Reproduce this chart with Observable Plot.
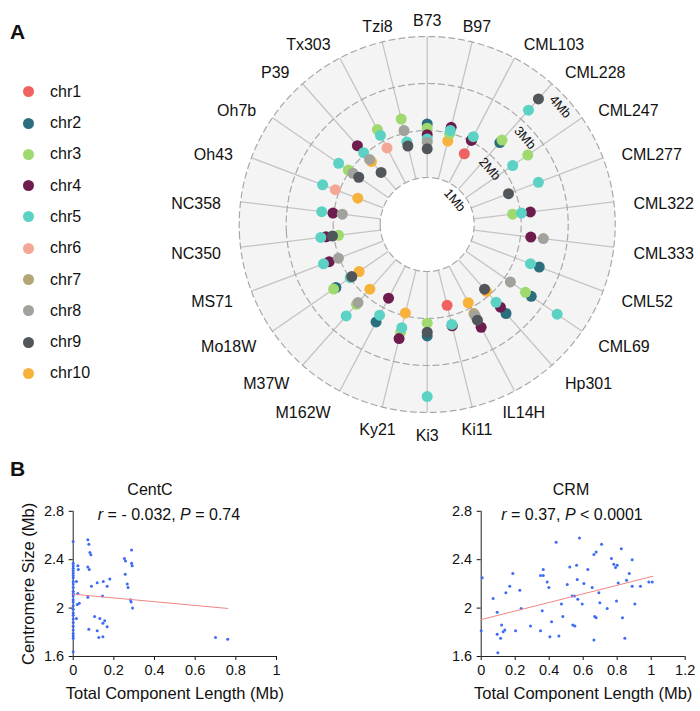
<!DOCTYPE html>
<html><head><meta charset="utf-8">
<script src="https://cdn.jsdelivr.net/npm/d3@7"></script>
<script src="https://cdn.jsdelivr.net/npm/@observablehq/plot@0.6"></script>
<style>
body{margin:0;background:#fff;font-family:"Liberation Sans",Arial,sans-serif;color:#111;}
#root{position:relative;width:700px;height:711px;overflow:hidden;background:#fff;}
.panel{position:absolute;font-weight:bold;font-size:21px;}
.leg{position:absolute;font-size:16px;display:flex;align-items:center;}
.leg span.sw{display:inline-block;width:11px;height:11px;border-radius:50%;margin-right:16px;}
.ctr{position:absolute;transform:translate(-50%,-50%);white-space:nowrap;font-size:16px;}
</style></head><body><div id="root"></div>
<script>
// ---------------- data ----------------
const genotypes = ["B73","B97","CML103","CML228","CML247","CML277","CML322","CML333","CML52","CML69","Hp301","IL14H","Ki11","Ki3","Ky21","M162W","M37W","Mo18W","MS71","NC350","NC358","Oh43","Oh7b","P39","Tx303","Tzi8"];
const chromosomes = ["chr1","chr2","chr3","chr4","chr5","chr6","chr7","chr8","chr9","chr10"];
const chrColors = ["#F0625F","#2B6F7F","#9FD96F","#6E1C4E","#5CD2C4","#F4A796","#B4A676","#A2A29C","#505659","#F7B23B"];
const _ = null;
//             B73  B97  C103 C228 C247 C277 C322 C333 C52  C69  Hp301 IL14H Ki11 Ki3  Ky21 M162W M37W Mo18W MS71 NC350 NC358 Oh43 Oh7b P39  Tx303 Tzi8
const chr1  = [_,   _,   1.70,_,   _,   _,   _,   _,   _,   _,   _,    _,    1.77,_,   _,   _,    _,   _,    _,   _,    _,    _,   _,   _,   _,    _];
const chr2  = [2.14,_,   2.04,2.33,_,   _,   _,   _,   2.55,2.69,2.53, _,    _,   2.37,_,   2.34, _,   2.36, _,   _,    _,    _,   _,   _,   _,    _];
const chr3  = [2.05,1.99,_,   2.40,2.60,_,   1.83,_,   _,   2.54,_,    _,    2.21,2.10,2.36,_,    2.27,2.42, _,   1.90, _,    _,   2.04,_,   2.28, 2.31];
const chr4  = [1.91,2.13,2.02,_,   _,   _,   2.21,2.22,_,   _,   2.35, 2.47, 2.22,_,   2.50,1.77, _,   _,    2.23,2.17, 2.02, _,   _,   2.24,_,    _];
const chr5  = [1.82,2.06,2.11,3.25,2.21,2.53,2.02,_,   2.35,3.36,2.21, _,    2.19,3.66,2.26,2.18, 2.60,1.99, 2.36,2.28, 2.26, 2.38,2.29,2.04,2.14, 1.81];
const chr6  = [_,   _,   _,   _,   _,   _,   _,   _,   _,   _,   _,    _,    _,   _,   _,   _,    _,   _,    _,   _,    _,    2.09,_,   _,   1.84, _];
const chr7  = [_,   _,   _,   _,   _,   _,   _,   _,   _,   _,   _,    2.14, _,   _,   _,   _,    _,   _,    _,   _,    _,    _,   _,   _,   _,    _];
const chr8  = [1.75,_,   _,   _,   _,   _,   _,   2.49,_,   2.15,_,    2.20, _,   _,   _,   _,    2.22,_,    2.02,_,    1.82, _,   1.92,1.85,_,    2.06];
const chr9  = [1.61,_,   _,   3.57,_,   1.85,_,   _,   _,   _,   1.84, 2.30, _,   2.29,_,   _,    _,   1.95, _,   2.03, _,    _,   1.77,1.48,_,    1.72];
const chr10 = [_,   1.83,_,   _,   _,   _,   _,   _,   _,   _,   1.90, 1.88, _,   _,   1.94,_,    1.84,1.76, _,   _,    _,    1.58,_,   1.79,_,    _];
const radialTicks = [1, 2, 3, 4];

// Panel B
const centcX = [0,0,0,0,0,0,0,0,0,0,0,0,0,0,0,0,0,0,0,0,0,0,0,0,0,0,0,0,
  0.072,0.077,0.082,0.087,0.072,0.079,0.023,0.025,0.016,0.023,0.072,0.09,0.118,0.148,0.167,0.18,0.144,0.02,0.03,
  0.252,0.257,0.287,0.287,0.29,0.256,0.266,0.27,0.282,0.285,0.292,0.016,0.105,0.131,0.146,0.155,0.167,0.077,0.118,0.126,0.146,0.70,0.76];
const centcY = [2.55,2.37,2.35,2.33,2.31,2.29,2.27,2.25,2.22,2.20,2.17,2.14,2.12,2.10,2.07,2.05,2.02,1.99,1.96,1.94,1.91,1.88,1.85,1.82,1.79,1.77,1.75,1.64,
  2.565,2.527,2.46,2.44,2.34,2.32,2.35,2.32,2.22,2.12,2.09,2.18,2.21,2.22,2.18,2.24,2.10,2.03,2.04,
  2.41,2.39,2.48,2.37,2.35,2.28,2.20,2.17,2.07,2.05,2.0,1.915,1.93,1.915,1.875,1.895,1.846,1.825,1.813,1.756,1.764,1.756,1.742];
const crmX = [0.006,0.07,0.094,0.12,0.145,0.168,0.186,0.227,0.235,0.349,0.365,0.365,0.359,0.388,0.398,0.441,0.472,0.48,0.506,0.521,0.535,0.549,0.539,0.561,0.565,0.568,0.578,0.594,0.604,0.627,0.653,0.663,0.676,0.692,0.698,0.668,0.676,0.708,0.741,0.766,0.78,0.79,0.8,0.796,0.806,0.824,0.831,0.855,0.871,0.888,0.888,0.904,0.937,0.986,1.006,
  0,0.094,0.098,0.114,0.129,0.139,0.202,0.29,0.349,0.404,0.414,0.457,0.551,0.663,0.845];
const crmY = [2.25,2.08,1.965,1.86,2.126,2.18,2.285,2.148,1.997,2.27,2.27,2.32,1.978,2.216,2.17,2.545,2.033,1.93,2.195,2.34,2.099,2.099,1.86,2.354,2.236,2.074,2.58,2.033,2.203,2.318,2.17,2.444,2.463,2.126,2.044,1.93,1.92,2.527,1.997,2.41,2.362,2.335,2.354,2.058,2.208,2.49,1.92,2.23,2.285,2.40,2.18,2.033,2.18,2.216,2.216,
  1.813,1.784,1.632,1.75,1.805,1.819,1.813,1.852,1.813,1.764,1.887,1.77,1.852,1.737,1.75];
const centcFitX = [0, 0.76], centcFitY = [2.115, 1.997];
const crmFitX = [0, 1.01], crmFitY = [1.905, 2.263];
const scatterYTicks = [1.6, 2, 2.4, 2.8];
const centcXTicks = [0, 0.2, 0.4, 0.6, 0.8, 1];
const crmXTicks = [0, 0.2, 0.4, 0.6, 0.8, 1, 1.2];

// ---------------- build ----------------
const root = document.getElementById("root");
const FONT = '"Liberation Sans", Arial, sans-serif';
const chrValues = [chr1, chr2, chr3, chr4, chr5, chr6, chr7, chr8, chr9, chr10];
const drawOrder = [0, 9, 1, 2, 3, 4, 5, 6, 7, 8];
const points = [];
for (const c of drawOrder) chrValues[c].forEach((v, gi) => { if (v != null) points.push({gi, chr: chromosomes[c], value: v}); });

const n = genotypes.length;
const lon = d3.scaleLinear().domain([0, n]).range([180, -180]);
const theta = i => i * 360 / n * Math.PI / 180;
const anchorOf = i => {
  const s = Math.sin(theta(i)), c = Math.cos(theta(i));
  if (s > 0.3 && (c > 0 || s > 0.5)) return "start";
  if (s < -0.3) return "end";
  return "middle";
};
const circle = r => d3.geoCircle().center([0, 90]).radius(r).precision(0.5)();
const labelR = 4.42;
const gIdx = genotypes.map((g, i) => i);
const labelMark = a => Plot.text(gIdx.filter(i => anchorOf(i) === a), {x: i => lon(i), y: () => 90 - labelR, text: i => genotypes[i], textAnchor: a, fontSize: 16, dy: 4});

const W = 700, H = 470, cx = 426.7, cy = 224, pxPerMb = 47, Rd = 4.7, Rpx = Rd * pxPerMb;
const polar = Plot.plot({
  width: W, height: H,
  marginLeft: cx - Rpx, marginRight: W - cx - Rpx, marginTop: cy - Rpx, marginBottom: H - cy - Rpx,
  projection: {type: "azimuthal-equidistant", rotate: [0, -90], domain: circle(Rd), inset: 0},
  color: {domain: chromosomes, range: chrColors},
  style: {fontFamily: FONT, fontSize: "16px", background: "transparent", overflow: "visible", color: "#111"},
  marks: [
    Plot.geo([4], {geometry: circle, fill: "#f4f4f4", stroke: "none"}),
    Plot.geo([1], {geometry: circle, fill: "#ffffff", stroke: "none"}),
    Plot.link(gIdx, {x1: i => lon(i), y1: 90 - 1, x2: i => lon(i), y2: 90 - 4, stroke: "#c4c4c4", strokeWidth: 1.3}),
    Plot.geo(radialTicks, {geometry: circle, fill: "none", stroke: "#a8a8a8", strokeWidth: 1.2, strokeDasharray: "6,4"}),
    Plot.text(radialTicks, {x: () => lon(3.5), y: r => 90 - (r - 0.22), text: r => r + "Mb", rotate: 48.5, fontSize: 13, fill: "#111"}),
    Plot.dot(points, {x: d => lon(d.gi), y: d => 90 - d.value, r: 5.5, fill: "chr", stroke: "none"}),
    labelMark("start"), labelMark("end"), labelMark("middle")
  ]
});
polar.style.position = "absolute"; polar.style.left = "0px"; polar.style.top = "0px";
root.appendChild(polar);

function addDiv(cls, text, css) { const d = document.createElement("div"); d.className = cls; d.innerHTML = text; Object.assign(d.style, css); root.appendChild(d); return d; }
addDiv("panel", "A", {left: "10px", top: "20px"});
addDiv("panel", "B", {left: "10px", top: "457px"});

chromosomes.forEach((c, i) => {
  const d = addDiv("leg", "", {left: "23px", top: (91.7 + i * 31.3 - 10) + "px", height: "20px"});
  const s = document.createElement("span"); s.className = "sw"; s.style.background = chrColors[i];
  d.appendChild(s); d.appendChild(document.createTextNode(c));
});

function scatter({xs, ys, fitX, fitY, xTicks, xMax, left, ml, mr, yTitle}) {
  const data = xs.map((x, i) => ({x, y: ys[i]}));
  const fit = fitX.map((x, i) => ({x, y: fitY[i]}));
  const marks = [
    Plot.axisX({ticks: xTicks, tickFormat: d => String(d), tickSize: 4, tickPadding: 4, fontSize: 14.5, label: null}),
    Plot.axisY({ticks: scatterYTicks, tickFormat: d => String(d), tickSize: 4, tickPadding: 5, fontSize: 14.5, label: null}),
    Plot.ruleX([0], {y1: 1.6, y2: 2.8, stroke: "#222"}),
    Plot.ruleY([1.6], {x1: 0, x2: xMax, stroke: "#222"}),
    Plot.dot(data, {x: "x", y: "y", r: 1.5, fill: "#3C6CF5", stroke: "none"}),
    Plot.line(fit, {x: "x", y: "y", stroke: "#F08585", strokeWidth: 1}),
    Plot.text(["Total Component Length (Mb)"], {frameAnchor: "bottom", dy: 42, text: d => d, fontSize: 16.5})
  ];
  if (yTitle) marks.push(Plot.text([yTitle], {x: () => -0.22, y: () => 2.2, text: d => d, rotate: -90, fontSize: 16.5}));
  const svg = Plot.plot({
    width: 350, height: 241, marginTop: 40.8, marginBottom: 55, marginLeft: ml, marginRight: mr,
    x: {domain: [0, xMax]}, y: {domain: [1.6, 2.8]},
    style: {fontFamily: FONT, fontSize: "15px", background: "transparent", overflow: "visible", color: "#111"},
    marks
  });
  svg.style.position = "absolute"; svg.style.left = left + "px"; svg.style.top = "470px";
  root.appendChild(svg);
}
scatter({xs: centcX, ys: centcY, fitX: centcFitX, fitY: centcFitY, xTicks: centcXTicks, xMax: 1, left: 0, ml: 72.7, mr: 74, yTitle: "Centromere Size (Mb)"});
scatter({xs: crmX, ys: crmY, fitX: crmFitX, fitY: crmFitY, xTicks: crmXTicks, xMax: 1.2, left: 350, ml: 130.7, mr: 15.3, yTitle: null});

addDiv("ctr", "CentC", {left: "150px", top: "490px"});
addDiv("ctr", "CRM", {left: "571px", top: "490px"});
addDiv("ctr", "<i>r</i> = - 0.032, <i>P</i> = 0.74", {left: "169px", top: "515px"});
addDiv("ctr", "<i>r</i> = 0.37, <i>P</i> &lt; 0.0001", {left: "572px", top: "515px"});
</script></body></html>
